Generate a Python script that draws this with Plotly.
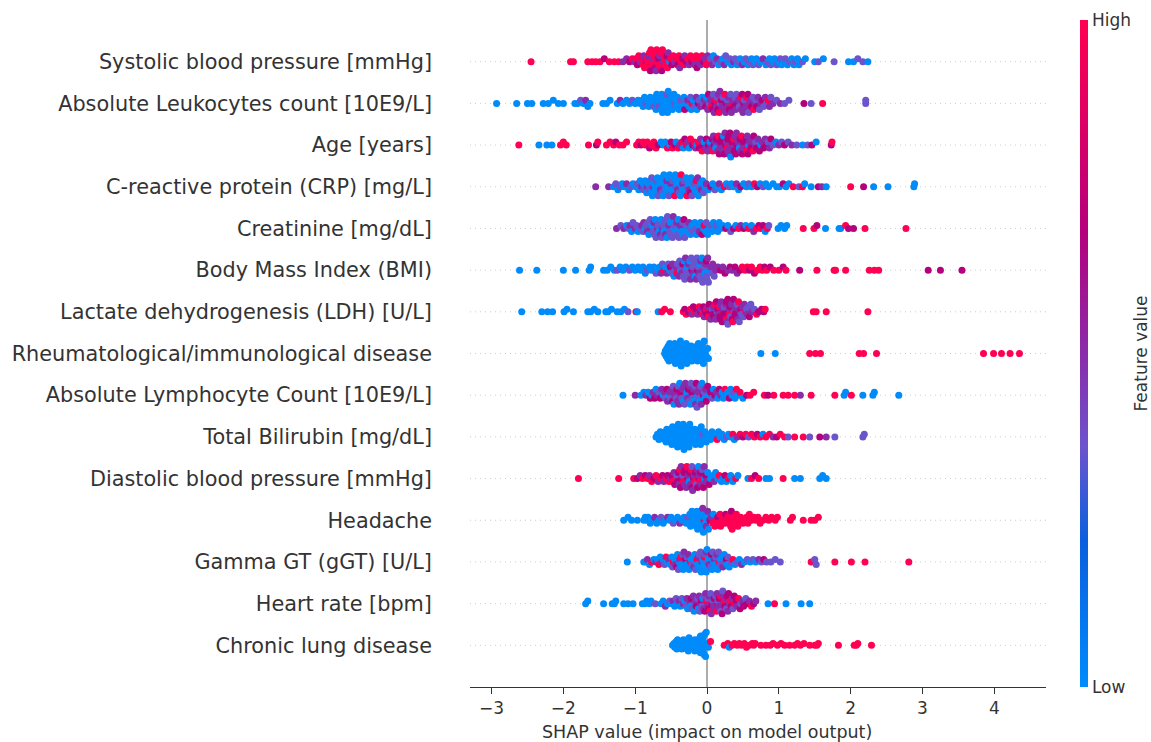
import numpy as np
import plotly.graph_objects as go

# Feature labels, top to bottom
features = [
    "Systolic blood pressure [mmHg]",
    "Absolute Leukocytes count [10E9/L]",
    "Age [years]",
    "C-reactive protein (CRP) [mg/L]",
    "Creatinine [mg/dL]",
    "Body Mass Index (BMI)",
    "Lactate dehydrogenesis (LDH) [U/L]",
    "Rheumatological/immunological disease",
    "Absolute Lymphocyte Count [10E9/L]",
    "Total Bilirubin [mg/dL]",
    "Diastolic blood pressure [mmHg]",
    "Headache",
    "Gamma GT (gGT) [U/L]",
    "Heart rate [bpm]",
    "Chronic lung disease",
]

# (SHAP value, feature-value level 0=low .. 4=high)
sbp = [(-2.45,4),(-1.90,4),(-1.86,4),(-1.66,4),(-1.60,4),(-1.55,4),(-1.49,4),(-1.43,3),(-1.36,4),(-1.29,4),(-1.23,4),
       (-1.17,2),(-1.12,2),(-1.08,3),(-1.04,4),(-1.01,2),(-0.99,4),(-0.97,3),(-0.95,4),(-0.93,2),(-0.91,4),
       (-0.89,4),(-0.88,2),(-0.87,4),(-0.85,3),(-0.84,4),(-0.83,4),(-0.82,2),(-0.81,4),
       (-0.80,4),(-0.79,3),(-0.78,4),(-0.77,4),(-0.76,2),(-0.75,4),(-0.74,4),(-0.73,3),(-0.72,4),(-0.71,2),(-0.70,4),
       (-0.69,4),(-0.68,3),(-0.67,4),(-0.66,2),(-0.65,4),(-0.64,4),(-0.63,3),(-0.62,4),(-0.61,2),
       (-0.59,4),(-0.58,4),(-0.56,3),(-0.55,4),(-0.54,2),(-0.52,0),(-0.51,4),
       (-0.49,3),(-0.47,4),(-0.45,2),(-0.43,4),(-0.41,3),(-0.39,4),(-0.38,2),(-0.36,4),(-0.34,3),(-0.32,4),(-0.31,2),
       (-0.29,3),(-0.27,4),(-0.25,2),(-0.23,4),(-0.21,3),(-0.19,4),(-0.17,2),(-0.15,4),(-0.14,3),(-0.12,2),(-0.11,4),
       (-0.09,2),(-0.07,4),(-0.05,3),(-0.03,2),(-0.01,4),
       (0.01,2),(0.03,4),(0.05,1),(0.07,2),(0.09,0),(0.12,1),(0.14,2),(0.16,0),(0.19,1),
       (0.22,0),(0.24,2),(0.26,1),(0.29,0),(0.32,1),(0.34,0),(0.37,2),(0.39,1),
       (0.42,0),(0.44,1),(0.46,0),(0.49,2),(0.52,0),(0.54,1),(0.57,0),(0.59,1),
       (0.62,0),(0.64,1),(0.67,0),(0.69,0),(0.72,1),(0.75,0),(0.78,2),
       (0.82,0),(0.84,1),(0.87,0),(0.89,1),(0.92,0),(0.94,0),(0.97,1),(0.99,0),
       (1.02,1),(1.04,0),(1.07,0),(1.09,1),(1.12,0),(1.15,1),(1.18,0),(1.21,0),(1.23,1),(1.26,0),(1.28,0),
       (1.33,1),(1.37,0),(1.50,0),(1.55,1),(1.62,0),(1.77,1),(1.97,0),(2.04,0),(2.10,1),(2.17,1),(2.24,0)]

leuko = [(-2.93,0),(-2.65,0),(-2.50,0),(-2.44,0),(-2.28,0),(-2.21,0),(-2.14,0),(-2.07,0),(-2.00,0),
         (-1.84,0),(-1.80,0),(-1.76,1),(-1.72,0),(-1.69,2),(-1.66,0),(-1.63,0),(-1.45,0),(-1.40,0),(-1.35,0),
         (-1.25,0),(-1.21,2),(-1.17,0),(-1.12,0),(-1.08,0),(-1.04,1),(-1.00,0),(-0.96,0),(-0.93,0),(-0.90,0),
         (-0.89,0),(-0.87,0),(-0.85,1),(-0.83,0),(-0.81,0),(-0.79,0),(-0.77,0),(-0.75,0),(-0.74,1),(-0.72,0),(-0.71,0),
         (-0.70,0),(-0.69,0),(-0.68,0),(-0.67,1),(-0.66,0),(-0.64,0),(-0.63,0),(-0.62,0),(-0.61,0),
         (-0.60,0),(-0.59,0),(-0.58,0),(-0.57,0),(-0.56,1),(-0.55,0),(-0.54,0),(-0.53,0),(-0.52,0),(-0.51,0),
         (-0.49,0),(-0.48,0),(-0.46,0),(-0.45,1),(-0.43,0),(-0.42,0),(-0.41,0),
         (-0.39,0),(-0.37,0),(-0.36,1),(-0.34,0),(-0.32,0),(-0.31,3),
         (-0.29,0),(-0.27,2),(-0.25,0),(-0.23,1),(-0.22,0),(-0.21,4),
         (-0.19,0),(-0.17,1),(-0.15,2),(-0.14,0),(-0.12,3),(-0.11,1),
         (-0.09,2),(-0.07,0),(-0.05,1),(-0.04,2),(-0.02,3),(-0.01,0),
         (0.01,2),(0.02,3),(0.03,1),(0.05,2),(0.06,4),(0.07,2),(0.08,3),(0.09,1),
         (0.10,2),(0.11,3),(0.12,4),(0.13,2),(0.14,1),(0.15,3),(0.16,2),(0.17,4),(0.18,2),(0.19,1),
         (0.20,3),(0.21,2),(0.22,1),(0.24,2),(0.25,4),(0.26,2),(0.27,3),(0.28,1),(0.29,2),
         (0.30,2),(0.31,3),(0.33,1),(0.34,2),(0.35,4),(0.36,2),(0.38,3),(0.39,1),
         (0.40,2),(0.41,1),(0.43,3),(0.44,2),(0.45,1),(0.47,4),(0.48,2),(0.49,3),
         (0.50,2),(0.51,3),(0.52,1),(0.54,2),(0.55,4),(0.56,2),(0.57,3),(0.58,1),(0.59,2),
         (0.61,2),(0.62,3),(0.64,1),(0.65,4),(0.67,2),(0.68,1),(0.69,3),
         (0.71,2),(0.73,1),(0.75,2),(0.77,3),(0.79,1),(0.81,2),(0.83,1),(0.85,4),(0.87,2),(0.89,1),
         (0.92,2),(0.97,1),(1.02,2),(1.08,1),(1.14,1),(1.35,3),(1.45,1),(1.61,4),(2.21,1),(2.21,1)]

age = [(-2.62,4),(-2.34,0),(-2.23,0),(-2.16,0),(-2.04,4),(-2.00,4),(-1.96,4),(-1.65,4),(-1.54,3),(-1.52,4),
       (-1.40,4),(-1.35,4),(-1.30,4),(-1.27,3),(-1.22,4),(-1.17,4),(-1.12,4),
       (-0.98,4),(-0.95,4),(-0.92,3),(-0.89,4),(-0.86,4),(-0.83,4),(-0.80,3),(-0.77,4),(-0.74,4),(-0.71,4),(-0.68,3),
       (-0.64,0),(-0.61,0),(-0.58,0),(-0.55,4),(-0.52,0),(-0.50,3),
       (-0.48,4),(-0.45,3),(-0.43,0),(-0.40,4),(-0.38,2),(-0.35,4),(-0.33,0),(-0.31,3),
       (-0.29,4),(-0.27,2),(-0.25,0),(-0.23,4),(-0.20,3),(-0.18,4),(-0.16,2),(-0.14,0),(-0.12,4),(-0.11,3),
       (-0.09,2),(-0.07,4),(-0.05,3),(-0.04,0),(-0.02,2),(-0.01,3),
       (0.01,2),(0.02,3),(0.04,0),(0.05,2),(0.07,3),(0.08,4),(0.09,2),
       (0.10,3),(0.11,2),(0.12,0),(0.13,3),(0.15,2),(0.16,4),(0.17,3),(0.18,2),(0.19,3),
       (0.20,2),(0.21,3),(0.22,2),(0.23,0),(0.24,3),(0.25,2),(0.26,3),(0.27,2),(0.28,4),(0.29,3),(0.29,2),
       (0.30,3),(0.31,2),(0.32,3),(0.33,0),(0.34,2),(0.35,3),(0.36,2),(0.37,4),(0.38,3),(0.39,2),
       (0.40,3),(0.41,2),(0.42,3),(0.43,2),(0.45,0),(0.46,3),(0.47,2),(0.48,4),(0.49,3),
       (0.50,2),(0.51,3),(0.52,2),(0.54,3),(0.55,4),(0.56,2),(0.57,3),(0.58,0),(0.59,2),
       (0.61,3),(0.62,2),(0.64,4),(0.65,3),(0.67,2),(0.68,1),(0.69,3),
       (0.71,2),(0.73,3),(0.75,0),(0.77,2),(0.79,3),(0.81,2),(0.83,3),(0.85,1),(0.87,2),(0.89,3),
       (0.92,1),(0.96,0),(1.00,2),(1.04,1),(1.08,3),(1.13,1),(1.18,2),
       (1.25,1),(1.33,0),(1.40,1),(1.46,3),(1.52,0),(1.73,3),(1.74,4)]

crp = [(-1.55,2),(-1.37,2),(-1.30,0),(-1.27,1),
       (-1.24,0),(-1.21,1),(-1.18,0),(-1.15,0),(-1.12,2),(-1.09,0),(-1.06,1),(-1.03,0),
       (-0.99,0),(-0.97,1),(-0.95,0),(-0.93,0),(-0.91,2),
       (-0.89,0),(-0.88,1),(-0.86,0),(-0.84,0),(-0.83,2),(-0.82,0),(-0.81,1),
       (-0.79,0),(-0.78,0),(-0.77,1),(-0.76,0),(-0.75,2),(-0.74,0),(-0.72,0),(-0.71,1),(-0.70,0),
       (-0.69,0),(-0.68,1),(-0.67,0),(-0.66,0),(-0.65,2),(-0.64,0),(-0.63,1),(-0.62,0),(-0.61,0),
       (-0.60,0),(-0.59,1),(-0.58,0),(-0.57,0),(-0.56,2),(-0.55,0),(-0.54,0),(-0.53,1),(-0.52,0),(-0.51,0),(-0.50,2),
       (-0.49,0),(-0.48,1),(-0.47,0),(-0.46,0),(-0.45,4),(-0.44,0),(-0.43,1),(-0.42,0),(-0.41,2),(-0.40,0),
       (-0.39,1),(-0.38,0),(-0.37,0),(-0.36,4),(-0.35,0),(-0.34,2),(-0.33,0),(-0.32,1),(-0.31,0),
       (-0.29,0),(-0.28,4),(-0.27,1),(-0.26,0),(-0.25,2),(-0.24,0),(-0.23,3),(-0.22,0),(-0.21,1),
       (-0.19,0),(-0.18,1),(-0.17,0),(-0.15,4),(-0.14,0),(-0.13,2),(-0.12,0),(-0.11,1),
       (-0.09,0),(-0.08,2),(-0.06,0),(-0.05,1),(-0.03,0),(-0.01,2),
       (0.02,0),(0.05,3),(0.08,0),(0.11,1),(0.14,0),(0.17,2),(0.20,0),(0.24,4),(0.27,0),
       (0.31,1),(0.34,0),(0.37,0),(0.41,2),(0.44,0),(0.47,3),(0.51,0),(0.55,0),(0.58,1),
       (0.62,0),(0.66,4),(0.70,3),(0.74,0),(0.78,1),(0.82,0),(0.86,0),
       (0.92,0),(0.97,0),(1.01,0),(1.06,3),(1.10,0),(1.14,0),(1.20,4),(1.28,1),(1.33,4),(1.36,0),
       (1.45,0),(1.55,3),(1.60,2),(1.66,0),(2.00,4),(2.18,3),(2.32,0),(2.52,0),(2.88,0),(2.89,0)]

creat = [(-1.26,2),(-1.20,1),(-1.16,2),(-1.12,0),
         (-1.09,1),(-1.07,2),(-1.05,0),(-1.03,1),(-1.00,2),(-0.98,1),(-0.96,0),(-0.93,1),(-0.91,2),
         (-0.89,1),(-0.88,2),(-0.86,0),(-0.85,1),(-0.83,2),(-0.82,1),(-0.81,0),
         (-0.79,1),(-0.78,2),(-0.77,0),(-0.75,1),(-0.74,2),(-0.73,1),(-0.72,0),(-0.71,1),
         (-0.69,2),(-0.68,1),(-0.67,0),(-0.66,1),(-0.65,2),(-0.64,0),(-0.63,1),(-0.62,2),(-0.61,1),
         (-0.60,0),(-0.59,1),(-0.58,2),(-0.57,1),(-0.56,0),(-0.55,1),(-0.54,0),(-0.53,2),(-0.52,1),(-0.51,0),(-0.50,1),
         (-0.49,0),(-0.48,1),(-0.47,2),(-0.46,0),(-0.45,1),(-0.43,0),(-0.42,2),(-0.41,1),(-0.40,0),
         (-0.39,1),(-0.38,0),(-0.37,2),(-0.35,0),(-0.34,1),(-0.33,0),(-0.32,3),(-0.31,1),
         (-0.29,0),(-0.28,1),(-0.26,0),(-0.25,2),(-0.23,0),(-0.22,1),(-0.21,0),
         (-0.19,1),(-0.17,0),(-0.15,0),(-0.14,1),(-0.12,0),(-0.11,2),
         (-0.09,0),(-0.07,3),(-0.05,0),(-0.04,4),(-0.02,0),(-0.01,1),
         (0.01,0),(0.03,0),(0.05,1),(0.07,0),(0.09,0),(0.11,0),(0.13,1),(0.15,0),(0.17,0),(0.19,0),
         (0.22,0),(0.26,3),(0.29,0),(0.33,1),(0.37,3),(0.40,0),(0.44,4),(0.47,2),
         (0.51,3),(0.54,0),(0.58,4),(0.62,0),(0.65,2),(0.69,4),(0.72,3),(0.75,4),(0.78,3),(0.81,0),(0.84,4),(0.86,1),
         (0.99,0),(1.03,0),(1.08,0),(1.11,0),(1.34,4),(1.49,4),(1.53,3),(1.65,0),(1.84,0),(1.86,0),
         (1.93,4),(1.97,3),(2.04,3),(2.20,4),(2.77,4)]

bmi = [(-2.61,0),(-2.37,0),(-2.00,0),(-1.83,0),(-1.64,0),(-1.62,0),(-1.44,0),(-1.39,0),(-1.34,0),
       (-1.29,0),(-1.25,1),(-1.21,0),(-1.17,0),(-1.13,0),(-1.08,1),(-1.04,0),(-1.00,0),(-0.96,0),(-0.92,0),
       (-0.89,0),(-0.86,0),(-0.83,1),(-0.80,0),(-0.77,0),(-0.74,0),(-0.71,1),(-0.68,0),(-0.66,0),
       (-0.64,2),(-0.62,1),(-0.60,4),(-0.58,0),(-0.56,2),(-0.54,1),(-0.52,0),(-0.51,3),
       (-0.49,1),(-0.48,2),(-0.46,0),(-0.45,1),(-0.43,2),(-0.42,4),(-0.41,1),
       (-0.39,2),(-0.38,1),(-0.37,0),(-0.36,1),(-0.35,2),(-0.34,3),(-0.33,1),(-0.32,0),(-0.31,1),
       (-0.30,2),(-0.29,1),(-0.28,0),(-0.27,1),(-0.26,2),(-0.25,1),(-0.24,0),(-0.23,2),(-0.22,1),(-0.21,3),(-0.20,1),
       (-0.19,2),(-0.18,1),(-0.17,0),(-0.16,1),(-0.15,2),(-0.14,1),(-0.13,3),(-0.12,1),(-0.11,2),(-0.10,0),(-0.10,1),
       (-0.09,2),(-0.08,1),(-0.07,0),(-0.06,1),(-0.05,2),(-0.04,1),(-0.03,0),(-0.02,2),(-0.01,1),(-0.01,3),(0.00,1),
       (0.01,2),(0.02,1),(0.04,0),(0.05,2),(0.07,1),(0.08,2),(0.10,1),(0.12,2),
       (0.15,2),(0.19,3),(0.22,2),(0.25,3),(0.29,2),(0.32,3),(0.35,2),(0.39,3),(0.42,2),(0.46,3),(0.49,4),
       (0.53,4),(0.56,4),(0.59,3),(0.62,4),(0.66,3),(0.70,4),(0.74,4),(0.77,4),(0.80,3),(0.83,4),(0.88,3),
       (0.93,4),(1.00,4),(1.06,3),(1.10,4),
       (1.29,3),(1.53,4),(1.77,4),(1.79,4),(1.93,4),(2.26,4),(2.33,4),(2.39,4),(3.08,3),(3.25,3),(3.55,3)]

ldh = [(-2.58,0),(-2.30,0),(-2.22,0),(-2.15,0),(-1.99,0),(-1.95,0),(-1.86,0),(-1.66,0),(-1.62,0),(-1.57,0),
       (-1.52,0),(-1.41,0),(-1.38,0),(-1.33,0),(-1.25,0),(-1.20,0),(-1.15,0),(-1.10,1),(-0.99,4),(-0.97,0),
       (-0.68,0),(-0.63,4),(-0.59,4),(-0.51,4),
       (-0.33,4),(-0.31,3),(-0.29,4),(-0.26,3),(-0.23,4),(-0.21,2),(-0.19,3),(-0.17,4),(-0.15,3),(-0.13,2),(-0.11,4),
       (-0.09,3),(-0.08,2),(-0.06,4),(-0.05,3),(-0.04,2),(-0.02,3),(-0.01,4),
       (0.00,3),(0.01,2),(0.02,4),(0.03,3),(0.05,2),(0.06,3),(0.07,1),(0.08,3),(0.09,2),
       (0.10,3),(0.11,4),(0.12,2),(0.13,3),(0.14,1),(0.15,3),(0.16,2),(0.17,4),(0.18,3),(0.19,2),(0.19,3),
       (0.20,2),(0.21,3),(0.22,4),(0.22,2),(0.23,3),(0.24,1),(0.25,3),(0.26,2),(0.27,4),(0.27,3),(0.28,2),(0.29,3),(0.29,1),
       (0.30,3),(0.31,2),(0.31,4),(0.32,3),(0.33,1),(0.34,2),(0.35,3),(0.36,2),(0.36,4),(0.37,3),(0.38,1),(0.39,2),(0.39,3),
       (0.40,2),(0.41,3),(0.42,1),(0.43,2),(0.44,4),(0.45,1),(0.46,2),(0.47,3),(0.48,1),(0.49,2),
       (0.51,1),(0.52,2),(0.54,4),(0.55,1),(0.56,2),(0.58,1),(0.59,3),
       (0.61,1),(0.63,2),(0.66,1),(0.69,4),(0.72,3),(0.76,3),(0.79,3),(0.81,4),
       (1.48,4),(1.52,4),(1.66,4),(2.24,4)]

rheum = [(-0.59,0),(-0.58,0),(-0.57,0),(-0.56,0),(-0.55,0),(-0.54,0),(-0.53,0),(-0.52,0),(-0.51,0),
         (-0.50,0),(-0.49,0),(-0.48,0),(-0.47,0),(-0.46,0),(-0.45,0),(-0.45,0),(-0.44,0),(-0.43,0),(-0.43,0),(-0.42,0),(-0.41,0),
         (-0.40,0),(-0.39,0),(-0.39,0),(-0.38,0),(-0.37,0),(-0.37,0),(-0.36,0),(-0.35,0),(-0.34,0),(-0.34,0),(-0.33,0),(-0.32,0),(-0.31,0),
         (-0.30,0),(-0.29,0),(-0.28,0),(-0.27,0),(-0.26,0),(-0.25,0),(-0.24,0),(-0.23,0),(-0.22,0),(-0.21,0),
         (-0.19,0),(-0.18,0),(-0.17,0),(-0.16,0),(-0.15,0),(-0.14,0),(-0.13,0),(-0.12,0),(-0.11,0),
         (-0.10,0),(-0.09,0),(-0.09,0),(-0.08,0),(-0.07,0),(-0.06,0),(-0.06,0),(-0.05,0),(-0.04,0),(-0.03,0),(-0.02,0),(-0.01,0),
         (0.01,0),(0.02,0),
         (0.75,0),(0.95,0),(1.43,4),(1.51,4),(1.58,4),(2.12,4),(2.18,4),(2.36,4),
         (3.85,4),(3.99,4),(4.10,4),(4.22,4),(4.35,4)]

lymph = [(-1.17,0),(-1.00,2),(-0.92,0),(-0.88,0),(-0.85,2),(-0.82,0),(-0.79,3),
         (-0.77,0),(-0.75,2),(-0.73,3),(-0.71,0),(-0.69,2),(-0.67,1),(-0.65,3),(-0.63,2),(-0.61,0),
         (-0.59,2),(-0.58,1),(-0.56,3),(-0.55,2),(-0.53,0),(-0.52,2),(-0.51,1),
         (-0.49,2),(-0.48,3),(-0.47,1),(-0.46,0),(-0.45,2),(-0.44,2),(-0.43,1),(-0.42,3),(-0.41,2),
         (-0.40,1),(-0.39,2),(-0.38,0),(-0.37,2),(-0.36,3),(-0.35,1),(-0.34,2),(-0.33,0),(-0.32,2),(-0.31,1),
         (-0.30,2),(-0.29,1),(-0.28,0),(-0.27,2),(-0.26,3),(-0.25,1),(-0.24,2),(-0.23,0),(-0.22,1),(-0.21,2),(-0.21,3),(-0.20,1),
         (-0.19,2),(-0.18,0),(-0.17,1),(-0.16,2),(-0.15,3),(-0.14,1),(-0.13,0),(-0.12,2),(-0.11,1),(-0.11,2),(-0.10,0),
         (-0.09,1),(-0.08,2),(-0.07,0),(-0.05,3),(-0.04,1),(-0.03,0),(-0.02,2),(-0.01,3),
         (0.01,3),(0.03,0),(0.05,3),(0.07,1),(0.09,0),(0.11,3),(0.13,2),(0.15,0),(0.17,3),(0.19,2),
         (0.21,0),(0.23,0),(0.25,4),(0.27,0),(0.29,0),(0.31,3),(0.33,0),(0.35,0),(0.37,1),(0.39,0),(0.41,4),(0.43,0),
         (0.46,4),(0.50,0),(0.55,3),(0.60,4),(0.65,4),
         (0.80,4),(0.85,3),(0.93,4),(1.06,4),(1.13,4),(1.22,4),(1.30,2),(1.45,4),(1.78,4),(1.91,0),(1.93,0),
         (2.01,4),(2.17,0),(2.31,0),(2.33,0),(2.67,0)]

bili = [(-0.71,0),(-0.69,0),(-0.67,0),(-0.65,0),(-0.63,0),(-0.61,0),
        (-0.59,0),(-0.58,0),(-0.57,0),(-0.56,0),(-0.55,0),(-0.54,0),(-0.53,0),(-0.52,0),(-0.51,0),
        (-0.50,0),(-0.49,0),(-0.48,0),(-0.47,0),(-0.47,0),(-0.46,0),(-0.45,0),(-0.44,0),(-0.44,0),(-0.43,0),(-0.42,0),(-0.41,0),
        (-0.40,0),(-0.39,0),(-0.38,0),(-0.38,0),(-0.37,0),(-0.36,0),(-0.35,0),(-0.35,0),(-0.34,0),(-0.33,0),(-0.33,0),(-0.32,0),(-0.31,0),
        (-0.30,0),(-0.29,0),(-0.28,0),(-0.28,0),(-0.27,0),(-0.26,0),(-0.25,0),(-0.25,0),(-0.24,0),(-0.23,0),(-0.22,0),(-0.21,0),
        (-0.19,0),(-0.18,0),(-0.17,0),(-0.16,0),(-0.15,0),(-0.14,0),(-0.13,0),(-0.12,0),(-0.11,0),(-0.10,0),
        (-0.09,0),(-0.08,0),(-0.07,0),(-0.06,1),(-0.04,0),(-0.03,0),(-0.01,0),
        (0.01,0),(0.03,0),(0.05,0),(0.07,0),(0.09,0),(0.12,0),(0.14,4),(0.16,0),(0.18,0),
        (0.21,0),(0.24,0),(0.27,1),(0.30,0),(0.33,0),(0.36,4),(0.38,0),
        (0.42,2),(0.46,4),(0.50,3),(0.54,4),(0.58,1),(0.62,4),(0.66,4),(0.70,3),(0.74,4),(0.78,0),
        (0.82,4),(0.87,4),(0.92,2),(0.97,3),(1.02,4),(1.08,4),(1.13,1),
        (1.22,4),(1.34,4),(1.43,1),(1.57,3),(1.66,2),(1.78,1),(2.17,1),(2.19,1)]

dbp = [(-1.79,4),(-1.23,4),(-1.02,4),(-0.97,3),(-0.93,2),(-0.90,4),(-0.86,3),(-0.83,4),(-0.80,2),
       (-0.77,4),(-0.74,3),(-0.71,4),(-0.68,2),(-0.65,4),(-0.62,3),(-0.60,2),(-0.57,4),(-0.55,3),(-0.53,4),(-0.51,2),
       (-0.49,3),(-0.48,4),(-0.46,2),(-0.45,3),(-0.43,4),(-0.42,1),(-0.41,3),
       (-0.40,3),(-0.39,2),(-0.38,4),(-0.37,3),(-0.36,2),(-0.35,3),(-0.34,1),(-0.33,4),(-0.32,3),(-0.31,2),
       (-0.30,3),(-0.29,2),(-0.28,4),(-0.27,3),(-0.26,2),(-0.25,0),(-0.24,3),(-0.23,2),(-0.22,4),(-0.21,3),(-0.21,1),(-0.20,2),
       (-0.19,3),(-0.18,2),(-0.17,4),(-0.16,3),(-0.15,1),(-0.14,2),(-0.13,3),(-0.12,0),(-0.11,3),(-0.11,2),(-0.10,4),
       (-0.09,3),(-0.08,2),(-0.07,1),(-0.05,3),(-0.04,2),(-0.03,0),(-0.02,3),(-0.01,2),
       (0.01,0),(0.03,3),(0.05,0),(0.08,0),(0.10,2),(0.12,0),(0.15,0),(0.17,4),(0.20,0),(0.22,0),
       (0.25,3),(0.27,0),(0.30,4),(0.33,0),(0.36,0),(0.40,4),(0.43,0),
       (0.57,0),(0.62,4),(0.67,3),(0.72,4),(0.82,0),(0.87,0),(1.06,4),(1.22,0),(1.30,0),(1.57,0),(1.61,0),(1.66,0)]

headache = [(-1.16,0),(-1.10,0),(-1.05,0),(-0.97,0),
            (-0.88,0),(-0.86,0),(-0.84,0),(-0.82,0),(-0.79,0),(-0.76,0),(-0.73,2),(-0.70,0),(-0.67,0),(-0.64,1),(-0.61,0),
            (-0.58,0),(-0.55,2),(-0.52,0),(-0.50,0),(-0.47,1),(-0.44,0),(-0.41,0),(-0.38,2),(-0.35,0),(-0.32,0),
            (-0.29,0),(-0.28,0),(-0.27,1),(-0.26,0),(-0.24,0),(-0.23,0),(-0.21,0),
            (-0.19,0),(-0.18,0),(-0.17,0),(-0.16,0),(-0.15,0),(-0.14,0),(-0.13,0),(-0.12,0),(-0.11,0),(-0.11,0),(-0.10,0),
            (-0.09,0),(-0.08,0),(-0.07,0),(-0.06,2),(-0.05,0),(-0.04,4),(-0.03,0),(-0.02,0),(-0.01,0),(-0.01,2),
            (0.01,2),(0.02,0),(0.04,3),(0.06,2),(0.08,4),(0.09,0),
            (0.11,4),(0.13,4),(0.15,3),(0.16,4),(0.18,4),(0.19,4),
            (0.21,4),(0.23,4),(0.25,4),(0.26,3),(0.28,4),(0.29,4),
            (0.31,4),(0.32,4),(0.33,4),(0.34,3),(0.35,4),(0.36,4),(0.37,4),(0.39,4),
            (0.41,4),(0.43,4),(0.45,4),(0.47,4),(0.50,4),(0.52,4),(0.55,4),(0.57,4),(0.59,4),
            (0.62,4),(0.65,4),(0.68,4),(0.71,4),(0.74,4),(0.78,4),(0.82,4),(0.86,4),
            (0.90,4),(0.95,4),(0.98,4),(1.16,4),(1.19,4),(1.34,4),(1.45,4),(1.50,4),(1.55,4)]

ggt = [(-1.11,0),(-0.88,0),(-0.85,0),(-0.83,2),(-0.80,0),(-0.77,4),(-0.74,0),
       (-0.71,2),(-0.69,0),(-0.67,4),(-0.65,0),(-0.63,2),(-0.61,0),(-0.59,1),(-0.57,4),(-0.55,0),(-0.53,2),(-0.51,0),
       (-0.49,0),(-0.48,1),(-0.47,4),(-0.45,0),(-0.44,2),(-0.43,0),(-0.42,3),(-0.41,0),
       (-0.40,1),(-0.39,0),(-0.38,2),(-0.37,0),(-0.36,4),(-0.35,0),(-0.34,1),(-0.33,0),(-0.32,2),(-0.31,0),
       (-0.30,3),(-0.29,0),(-0.28,1),(-0.27,0),(-0.26,2),(-0.25,0),(-0.23,4),(-0.22,0),(-0.21,1),
       (-0.19,0),(-0.18,2),(-0.17,0),(-0.16,1),(-0.15,0),(-0.14,4),(-0.13,0),(-0.12,2),(-0.11,0),(-0.11,1),(-0.10,0),
       (-0.09,1),(-0.08,0),(-0.07,2),(-0.06,0),(-0.05,0),(-0.04,4),(-0.03,0),(-0.03,1),(-0.02,0),(-0.01,2),(-0.01,0),(0.00,0),
       (0.01,1),(0.02,0),(0.03,2),(0.04,0),(0.05,1),(0.06,3),(0.07,0),(0.08,1),(0.09,0),
       (0.10,2),(0.11,0),(0.12,1),(0.13,0),(0.14,2),(0.15,0),(0.16,1),(0.17,4),(0.18,0),(0.19,1),
       (0.21,0),(0.22,2),(0.24,0),(0.25,1),(0.27,3),(0.28,0),(0.29,1),
       (0.31,0),(0.34,1),(0.36,4),(0.39,0),(0.42,1),(0.45,0),(0.48,2),
       (0.52,0),(0.56,1),(0.60,0),(0.64,1),(0.68,0),(0.72,2),(0.76,1),(0.79,3),(0.83,1),(0.89,1),(0.95,1),(1.02,1),
       (1.45,4),(1.50,1),(1.52,1),(1.78,4),(2.01,4),(2.20,4),(2.81,4)]

hr = [(-1.69,0),(-1.66,0),(-1.44,0),(-1.32,0),(-1.29,0),(-1.27,0),(-1.16,0),(-1.10,0),(-1.03,0),
      (-0.90,0),(-0.87,0),(-0.84,0),(-0.80,0),(-0.78,0),(-0.72,1),(-0.64,0),(-0.61,0),(-0.58,2),(-0.55,0),(-0.52,1),
      (-0.49,0),(-0.47,2),(-0.45,0),(-0.43,1),(-0.41,0),(-0.39,2),(-0.37,0),(-0.35,1),(-0.33,2),(-0.31,0),
      (-0.29,1),(-0.28,2),(-0.27,0),(-0.25,1),(-0.24,2),(-0.23,0),(-0.22,3),(-0.21,1),
      (-0.19,2),(-0.18,0),(-0.17,1),(-0.16,2),(-0.15,3),(-0.13,1),(-0.12,0),(-0.11,2),(-0.10,1),
      (-0.09,2),(-0.08,3),(-0.07,1),(-0.06,0),(-0.05,2),(-0.04,1),(-0.03,3),(-0.02,2),(-0.01,1),(-0.01,4),
      (0.00,2),(0.01,1),(0.02,3),(0.03,2),(0.04,4),(0.05,1),(0.06,2),(0.07,3),(0.08,1),(0.09,2),
      (0.10,3),(0.11,2),(0.12,1),(0.13,4),(0.14,2),(0.15,3),(0.15,1),(0.16,2),(0.17,3),(0.18,2),(0.19,4),(0.19,1),
      (0.20,2),(0.21,3),(0.22,1),(0.23,2),(0.24,4),(0.25,3),(0.26,2),(0.27,1),(0.28,3),(0.29,2),
      (0.30,3),(0.31,2),(0.32,4),(0.34,3),(0.35,2),(0.36,1),(0.38,3),(0.39,4),
      (0.41,3),(0.42,2),(0.44,4),(0.46,3),(0.47,1),(0.49,2),
      (0.51,3),(0.54,1),(0.56,3),(0.59,2),(0.62,4),(0.65,3),(0.68,2),
      (0.85,0),(0.94,4),(1.10,0),(1.31,0),(1.43,0)]

lung = [(-0.48,0),(-0.46,0),(-0.45,0),(-0.43,0),(-0.42,0),(-0.41,0),
        (-0.40,0),(-0.39,0),(-0.37,0),(-0.36,0),(-0.35,0),(-0.33,0),(-0.32,0),(-0.31,0),
        (-0.30,0),(-0.29,0),(-0.28,0),(-0.27,0),(-0.26,0),(-0.25,0),(-0.23,0),(-0.22,0),(-0.21,0),
        (-0.19,0),(-0.18,0),(-0.17,0),(-0.17,0),(-0.16,0),(-0.15,0),(-0.14,0),(-0.13,0),(-0.13,0),(-0.12,0),(-0.11,0),(-0.10,0),
        (-0.09,0),(-0.09,0),(-0.08,0),(-0.08,0),(-0.08,0),(-0.07,0),(-0.07,0),(-0.06,0),(-0.06,0),(-0.06,0),
        (-0.05,0),(-0.05,0),(-0.04,0),(-0.03,0),(-0.02,0),(-0.01,0),
        (0.00,0),(0.01,0),(0.02,0),
        (0.05,4),(0.24,4),(0.29,4),(0.31,0),(0.35,4),(0.38,4),(0.42,4),(0.45,4),(0.48,4),(0.52,4),(0.55,4),
        (0.59,4),(0.63,4),(0.65,4),(0.67,4),(0.75,4),(0.82,4),(0.88,4),(0.92,4),(0.98,4),(1.03,4),(1.08,4),
        (1.15,4),(1.22,4),(1.26,4),(1.30,4),(1.35,4),(1.43,4),(1.50,4),(1.53,4),(1.55,4),
        (1.83,4),(2.05,4),(2.08,4),(2.10,4),(2.29,4)]

rows_top_to_bottom = [sbp, leuko, age, crp, creat, bmi, ldh, rheum, lymph, bili, dbp, headache, ggt, hr, lung]

x_ticks = [-3, -2, -1, 0, 1, 2, 3, 4]
x_ticktext = ["\u22123", "\u22122", "\u22121", "0", "1", "2", "3", "4"]
level_to_value = {0: 0.0, 1: 0.36, 2: 0.5, 3: 0.68, 4: 1.0}

colorscale = [
    [0.0, "rgb(0,139,251)"],
    [0.22, "rgb(10,95,222)"],
    [0.36, "rgb(108,84,205)"],
    [0.5, "rgb(138,44,170)"],
    [0.68, "rgb(180,0,125)"],
    [0.85, "rgb(222,0,100)"],
    [1.0, "rgb(255,0,82)"],
]


def swarm_offsets(vals, binw=0.08, row_height=0.4):
    vals = np.asarray(vals, dtype=float)
    q = np.floor((vals - vals.min()) / binw + 1e-9).astype(int)
    order = np.argsort(q, kind="stable")
    ys = np.zeros(len(vals))
    layer, last = 0, None
    for i in order:
        if q[i] != last:
            layer = 0
        ys[i] = np.ceil(layer / 2) * ((layer % 2) * 2 - 1)
        layer += 1
        last = q[i]
    ys *= 0.9 * (row_height / np.max(ys + 1))
    return ys


n = len(features)
xs, ys, cs = [], [], []
for idx, data in enumerate(rows_top_to_bottom):
    pos = n - 1 - idx
    v = np.array([p[0] for p in data])
    c = np.array([level_to_value[p[1]] for p in data])
    off = swarm_offsets(v)
    xs.extend(v.tolist())
    ys.extend((pos + off).tolist())
    cs.extend(c.tolist())

fig = go.Figure()
fig.add_trace(go.Scatter(
    x=xs, y=ys, mode="markers",
    marker=dict(size=7, color=cs, colorscale=colorscale, cmin=0, cmax=1,
                line=dict(width=0), opacity=1,
                colorbar=dict(thickness=8, len=1, lenmode="fraction", y=0.5, yanchor="middle",
                              x=1.059, xanchor="left", xpad=0, ypad=0, outlinewidth=0,
                              tickvals=[0, 1], ticktext=["Low", "High"], ticks="",
                              tickfont=dict(size=17, color="#333333", family="DejaVu Sans"))),
    hoverinfo="skip", showlegend=False,
))

shapes = []
for i in range(n):
    shapes.append(dict(type="line", xref="paper", x0=0, x1=1, yref="y", y0=i, y1=i,
                       line=dict(color="#cccccc", width=1, dash="1px,4px"), layer="below"))
shapes.append(dict(type="line", xref="x", x0=0, x1=0, yref="paper", y0=0, y1=1,
                   line=dict(color="#999999", width=1.6), layer="below"))

fig.update_layout(
    width=1151, height=742,
    margin=dict(l=470, r=105, t=20, b=55, autoexpand=False),
    plot_bgcolor="white", paper_bgcolor="white",
    font=dict(family="DejaVu Sans", color="#333333"),
    shapes=shapes,
    annotations=[
        dict(text="Feature value", xref="paper", yref="paper", x=(1140 - 470) / 576, y=0.5,
             textangle=-90, showarrow=False, font=dict(size=17, color="#333333"),
             xanchor="center", yanchor="middle"),
        dict(text="SHAP value (impact on model output)", xref="x", yref="paper", x=0, y=-0.067,
             showarrow=False, font=dict(size=17.5, color="#333333"),
             xanchor="center", yanchor="middle"),
    ],
)
fig.update_xaxes(range=[-3.30, 4.72], tickvals=x_ticks, ticktext=x_ticktext,
                 ticks="outside", ticklen=6, tickwidth=1, tickcolor="#333333",
                 showline=True, linecolor="#333333", linewidth=1,
                 showgrid=False, zeroline=False, automargin=False,
                 tickfont=dict(size=17, color="#333333"))
fig.update_yaxes(range=[-1, n], tickvals=list(range(n)), ticktext=features[::-1],
                 showline=False, showgrid=False, zeroline=False, ticks="", automargin=False,
                 ticklabelstandoff=37,
                 tickfont=dict(size=20.8, color="#333333"))

fig.write_html("out.html", config={"displayModeBar": False},
               post_script="document.body.style.margin='0';document.body.style.overflow='hidden';")
